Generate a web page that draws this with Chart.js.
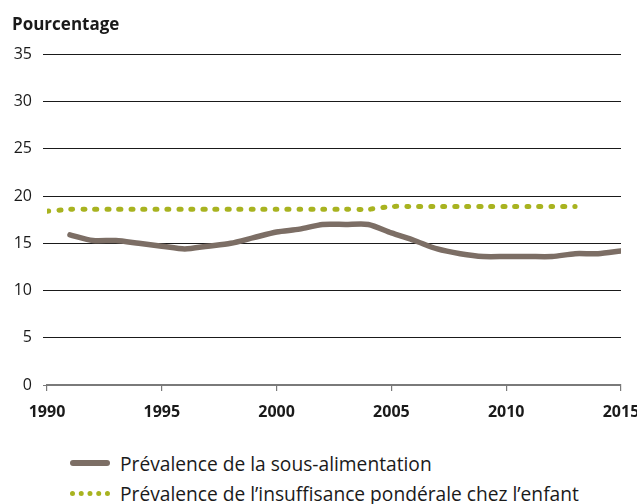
<!DOCTYPE html>
<html>
<head>
<meta charset="utf-8">
<script src="https://cdn.jsdelivr.net/npm/chart.js@4"></script>
<style>
  body { margin: 0; background: #fff; overflow: hidden; }
  #wrap { position: relative; width: 637px; height: 504px; overflow: hidden; font-family: "Open Sans", sans-serif; }
  #chartBox { position: absolute; left: 0; top: 0; width: 637px; height: 425px; }
  #legend { position: absolute; left: 70px; top: 448px; }
  .item { display: flex; align-items: center; height: 30px; font-size: 19.2px; color: #1a1a1a; white-space: nowrap; }
  .swatch { width: 40px; margin-right: 10px; }
  .solid { border-top: 6px solid #7c6e65; border-radius: 3px; }
  .dotted { border-top: 5px dotted #a8b320; }
</style>
</head>
<body>
<div id="wrap">
  <div id="chartBox"><canvas id="myChart"></canvas></div>
  <div id="legend"></div>
</div>
<script>
//Data
const underYears = [1991, 1992, 1993, 1994, 1995, 1996, 1997, 1998, 1999, 2000, 2001, 2002, 2003, 2004, 2005, 2006, 2007, 2008, 2009, 2010, 2011, 2012, 2013, 2014, 2015];
const underValues = [15.9, 15.3, 15.3, 15.0, 14.7, 14.4, 14.7, 15.0, 15.6, 16.2, 16.5, 17.0, 17.0, 17.0, 16.1, 15.3, 14.4, 13.9, 13.6, 13.6, 13.6, 13.6, 13.9, 13.9, 14.2];
const weightYears = [1990, 1991, 1992, 1993, 1994, 1995, 1996, 1997, 1998, 1999, 2000, 2001, 2002, 2003, 2004, 2005, 2006, 2007, 2008, 2009, 2010, 2011, 2012, 2013];
const weightValues = [18.4, 18.6, 18.6, 18.6, 18.6, 18.6, 18.6, 18.6, 18.6, 18.6, 18.6, 18.6, 18.6, 18.6, 18.6, 18.9, 18.9, 18.9, 18.9, 18.9, 18.9, 18.9, 18.9, 18.9];
const xTicks = [1990, 1995, 2000, 2005, 2010, 2015];
const yTicks = [0, 5, 10, 15, 20, 25, 30, 35];
const seriesNames = ["Prévalence de la sous-alimentation", "Prévalence de l\u2019insuffisance pondérale chez l\u2019enfant"];

const brown = "#7c6e65";
const green = "#a8b320";

function toPoints(xs, ys) {
    return xs.map((x, i) => ({ x: x, y: ys[i] }));
}

//chart.js setup
let canvasElement = document.getElementById("myChart").getContext('2d');
let config = {
    type: 'line',
    data: {
        datasets: [{
                label: seriesNames[0],
                data: toPoints(underYears, underValues),
                borderColor: brown,
                borderWidth: 5.5,
                borderCapStyle: 'round',
                borderJoinStyle: 'round',
                pointRadius: 0,
                tension: 0.25,
                fill: false
            },
            {
                label: seriesNames[1],
                data: toPoints(weightYears, weightValues),
                borderColor: green,
                borderWidth: 5,
                borderCapStyle: 'round',
                borderDash: [2, 10],
                pointRadius: 0,
                tension: 0.2,
                fill: false
            }
        ]
    },
    options: {
        responsive: true,
        maintainAspectRatio: false,
        animation: false,
        layout: { padding: { left: 12, right: 16, top: 0, bottom: 0 } },
        plugins: {
            legend: { display: false },
            tooltip: { enabled: false },
            title: {
                display: true,
                text: 'Pourcentage',
                align: 'start',
                color: '#1a1a1a',
                font: { family: 'Open Sans', size: 17, weight: 'bold' },
                padding: { top: 15, bottom: 19 }
            }
        },
        scales: {
            x: {
                type: 'linear',
                min: xTicks[0],
                max: xTicks[xTicks.length - 1],
                afterBuildTicks: s => { s.ticks = xTicks.map(v => ({ value: v })); },
                afterFit: s => { s.height = 40; s.paddingRight = 16; },
                ticks: {
                    callback: v => String(v),
                    color: '#1a1a1a',
                    font: { family: 'Open Sans', size: 16, weight: 'bold' },
                    padding: 12,
                    maxRotation: 0
                },
                grid: { drawOnChartArea: false, drawTicks: true, tickLength: 6, color: '#7a7a7a', lineWidth: 1.2 },
                border: { display: true, color: '#7a7a7a', width: 2 }
            },
            y: {
                min: 0,
                max: 35,
                afterBuildTicks: s => { s.ticks = yTicks.map(v => ({ value: v })); },
                afterFit: s => { s.width = 35; },
                ticks: {
                    color: '#1a1a1a',
                    font: { family: 'Open Sans', size: 16 },
                    padding: 11
                },
                grid: {
                    color: ctx => ctx.tick && ctx.tick.value === 0 ? '#7a7a7a' : '#1a1a1a',
                    lineWidth: 1,
                    tickLength: 4
                },
                border: { display: false }
            }
        }
    }
};

let myChart = new Chart(canvasElement, config);

//Legend
const legendBox = document.getElementById("legend");
["solid", "dotted"].forEach((cls, i) => {
    const row = document.createElement("div");
    row.className = "item";
    const sw = document.createElement("span");
    sw.className = "swatch " + cls;
    const txt = document.createElement("span");
    txt.textContent = seriesNames[i];
    row.appendChild(sw);
    row.appendChild(txt);
    legendBox.appendChild(row);
});
</script>
</body>
</html>
